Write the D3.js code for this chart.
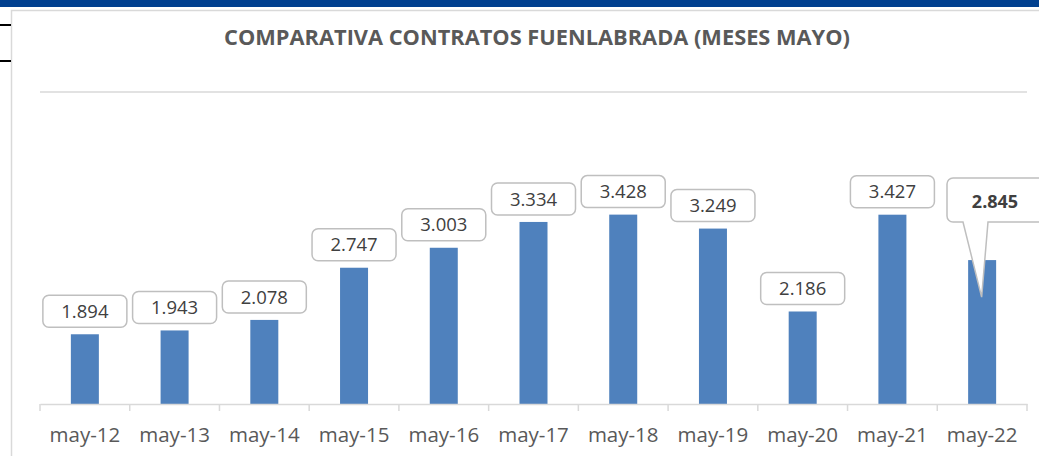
<!DOCTYPE html>
<html>
<head>
<meta charset="utf-8">
<script src="https://cdn.jsdelivr.net/npm/d3@7"></script>
<style>
  body { margin: 0; background: #fff; }
  svg { display: block; font-family: "Open Sans", sans-serif; }
</style>
</head>
<body>
<svg id="chart" width="1039" height="456"></svg>
<script>
// data
const months = ["may-12","may-13","may-14","may-15","may-16","may-17","may-18","may-19","may-20","may-21","may-22"];
const contratos = [1894, 1943, 2078, 2747, 3003, 3334, 3428, 3249, 2186, 3427, 2845];
const labels = ["1.894","1.943","2.078","2.747","3.003","3.334","3.428","3.249","2.186","3.427","2.845"];
const yDomain = [1000, 5000];

const svg = d3.select("#chart"),
  width = +svg.attr("width"),
  height = +svg.attr("height");

// page chrome
svg.append("rect").attr("x", 0).attr("y", 0).attr("width", width).attr("height", 7).attr("fill", "#01408f");
svg.append("rect").attr("x", 11.5).attr("y", 10.5).attr("width", width + 20).attr("height", height + 20)
  .attr("fill", "none").attr("stroke", "#d9d9d9").attr("stroke-width", 1.5);
svg.append("line").attr("x1", 0).attr("x2", 11).attr("y1", 25).attr("y2", 25).attr("stroke", "#000").attr("stroke-width", 2);
svg.append("line").attr("x1", 0).attr("x2", 11).attr("y1", 61).attr("y2", 61).attr("stroke", "#000").attr("stroke-width", 2);

// title
svg.append("text")
  .attr("x", 537).attr("y", 45)
  .attr("text-anchor", "middle")
  .style("font-size", "21.8px").style("font-weight", "bold")
  .attr("fill", "#595959")
  .text("COMPARATIVA CONTRATOS FUENLABRADA (MESES MAYO)");

const x = d3.scaleBand().domain(months).range([40, 1027]).paddingInner(0).paddingOuter(0);
const y = d3.scaleLinear().domain(yDomain).range([404, 92]);
const barW = 28;

// top gridline
svg.append("line").attr("x1", 40).attr("x2", 1027).attr("y1", y(yDomain[1])).attr("y2", y(yDomain[1]))
  .attr("stroke", "#d9d9d9").attr("stroke-width", 1.5);

// bars
svg.append("g").selectAll("rect")
  .data(months)
  .join("rect")
  .attr("x", (d) => x(d) + x.bandwidth() / 2 - barW / 2)
  .attr("width", barW)
  .attr("y", (d, i) => y(contratos[i]))
  .attr("height", (d, i) => y(yDomain[0]) - y(contratos[i]))
  .attr("fill", "#4f81bd");

// x axis
const xAxis = svg.append("g")
  .attr("transform", `translate(0,${y(yDomain[0])})`)
  .call(d3.axisBottom(x).tickSize(0).tickPadding(23));
xAxis.select(".domain").attr("stroke", "#d9d9d9").attr("stroke-width", 1.5);
xAxis.selectAll("text").style("font-size", "20.5px").attr("fill", "#595959").style("font-family", "'Open Sans', sans-serif");
xAxis.append("g").selectAll("line")
  .data(months.concat(["end"]))
  .join("line")
  .attr("x1", (d, i) => 40 + i * x.bandwidth())
  .attr("x2", (d, i) => 40 + i * x.bandwidth())
  .attr("y1", 0).attr("y2", 7)
  .attr("stroke", "#d9d9d9").attr("stroke-width", 1.5);

// data labels
const boxW = 84, boxH = 32;
const lab = svg.append("g").selectAll("g")
  .data(months.slice(0, months.length - 1))
  .join("g")
  .attr("transform", (d, i) => `translate(${x(d) + x.bandwidth() / 2},${y(contratos[i]) - 7 - boxH / 2})`);
lab.append("rect")
  .attr("x", -boxW / 2).attr("y", -boxH / 2)
  .attr("width", boxW).attr("height", boxH)
  .attr("rx", 6)
  .attr("fill", "#fff").attr("stroke", "#bfbfbf").attr("stroke-width", 1.5);
lab.append("text")
  .attr("text-anchor", "middle").attr("dy", "0.36em")
  .style("font-size", "18.5px").attr("fill", "#404040")
  .text((d, i) => labels[i]);

// callout for last month
const last = months.length - 1;
const cx = x(months[last]) + x.bandwidth() / 2;
const tipY = y(contratos[last]) + 37;
const bx0 = 947, by0 = 178, bx1 = 1050, by1 = 222, r = 6;
const callout = d3.path();
callout.moveTo(bx0 + r, by0);
callout.lineTo(bx1, by0);
callout.lineTo(bx1, by1);
callout.lineTo(988, by1);
callout.lineTo(cx - 0.5, tipY);
callout.lineTo(963, by1);
callout.lineTo(bx0 + r, by1);
callout.arcTo(bx0, by1, bx0, by1 - r, r);
callout.lineTo(bx0, by0 + r);
callout.arcTo(bx0, by0, bx0 + r, by0, r);
callout.closePath();
svg.append("path").attr("d", callout.toString())
  .attr("fill", "#fff").attr("stroke", "#bfbfbf").attr("stroke-width", 1.5);
svg.append("text")
  .attr("x", 995).attr("y", 208)
  .attr("text-anchor", "middle")
  .style("font-size", "18px").style("font-weight", "bold").attr("fill", "#404040")
  .text(labels[last]);
</script>
</body>
</html>
